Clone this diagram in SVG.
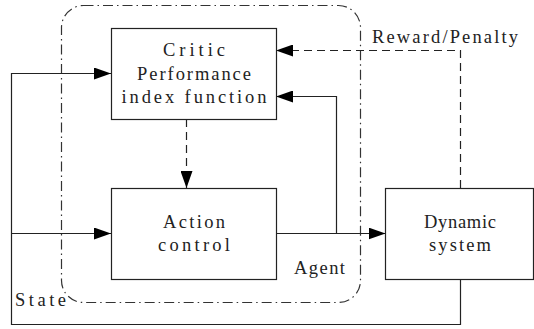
<svg xmlns="http://www.w3.org/2000/svg" width="534" height="329" viewBox="0 0 534 329">
<style>
.box{fill:#fff;stroke:#222;stroke-width:1.2}
.ln{fill:none;stroke:#222;stroke-width:1.2}
.dash{fill:none;stroke:#222;stroke-width:1.2;stroke-dasharray:8 5}
.agent{fill:none;stroke:#333;stroke-width:1.2;stroke-dasharray:10 4 1.5 4}
text{font-family:"Liberation Serif","DejaVu Serif",serif;font-size:18.5px;fill:#222}
.c{text-anchor:middle}
</style>
<defs>
<marker id="ah" markerWidth="17" markerHeight="12" refX="17" refY="6" orient="auto" markerUnits="userSpaceOnUse">
<path d="M0,0 L17,6 L0,12 Z" fill="#000"/>
</marker>
</defs>
<g id="agent">
<rect class="agent" x="61.5" y="5.5" width="299" height="297" rx="22" ry="22"/>
<text x="294" y="274" textLength="51" lengthAdjust="spacing">Agent</text>
</g>
<g id="connectors">
<polyline class="ln" points="460.5,279 460.5,324.5 11.5,324.5 11.5,73.5 111,73.5" marker-end="url(#ah)"/>
<polyline class="ln" points="11.5,233.5 111,233.5" marker-end="url(#ah)"/>
<polyline class="ln" points="276,233.5 385.5,233.5" marker-end="url(#ah)"/>
<polyline class="ln" points="336.5,233.5 336.5,96.5 276,96.5" marker-end="url(#ah)"/>
<polyline class="dash" points="460.5,188 460.5,50.5 276,50.5" marker-end="url(#ah)"/>
<polyline class="dash" points="186.5,119 186.5,188" marker-end="url(#ah)"/>
<text x="372" y="43" textLength="146" lengthAdjust="spacing">Reward/Penalty</text>
<text x="15" y="306" textLength="51" lengthAdjust="spacing">State</text>
</g>
<g id="critic">
<rect class="box" x="111.5" y="28.5" width="165" height="91"/>
<text class="c" x="194" y="56" textLength="62" lengthAdjust="spacing">Critic</text>
<text class="c" x="194" y="80" textLength="114" lengthAdjust="spacing">Performance</text>
<text class="c" x="194" y="103" textLength="145" lengthAdjust="spacing">index function</text>
</g>
<g id="action">
<rect class="box" x="111.5" y="188.5" width="165" height="91"/>
<text class="c" x="194" y="228" textLength="62" lengthAdjust="spacing">Action</text>
<text class="c" x="194" y="251" textLength="72" lengthAdjust="spacing">control</text>
</g>
<g id="dynamic">
<rect class="box" x="385.5" y="188.5" width="148" height="91"/>
<text class="c" x="460" y="228" textLength="72" lengthAdjust="spacing">Dynamic</text>
<text class="c" x="460" y="251" textLength="62" lengthAdjust="spacing">system</text>
</g>
</svg>
